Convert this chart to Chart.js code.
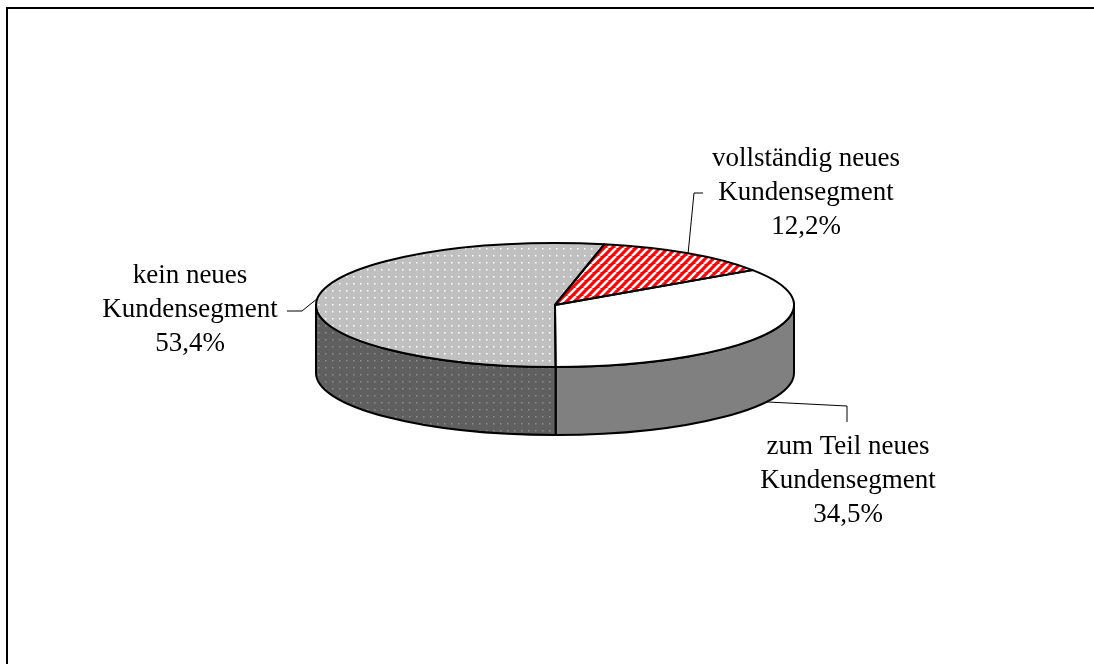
<!DOCTYPE html>
<html>
<head>
<meta charset="utf-8">
<script src="https://cdn.jsdelivr.net/npm/chart.js@4.4.0/dist/chart.umd.min.js"></script>
<style>
  body { margin: 0; background: #fff; overflow: hidden; }
  #frame { position: absolute; left: 6px; top: 7px; width: 1200px; height: 800px; border-left: 2px solid #000; border-top: 2px solid #000; }
  #pie { position: absolute; left: 0; top: 0; }
</style>
</head>
<body>
<div id="frame"></div>
<canvas id="pie" width="1094" height="664"></canvas>
<script>
// segments and their shares in percent
var categories = [
	['vollständig neues', 'Kundensegment'],
	['zum Teil neues', 'Kundensegment'],
	['kein neues', 'Kundensegment']
];
var shares = [12.2, 34.5, 53.4];

var tilt = 62 / 239; // vertical squash of the top face
var depth = 68; // height of the cylinder wall in px

var canvas = document.getElementById('pie');
var ctx = canvas.getContext('2d');

// small tiles used as fill patterns
function dotPattern(base, dot) {
	var n = 7;
	var c = document.createElement('canvas');
	c.width = n;
	c.height = n;
	var g = c.getContext('2d');
	g.fillStyle = base;
	g.fillRect(0, 0, n, n);
	g.fillStyle = dot;
	g.fillRect(3, 3, 1.5, 1.5);
	return ctx.createPattern(c, 'repeat');
}

function stripePattern() {
	var n = 8;
	var c = document.createElement('canvas');
	c.width = n;
	c.height = n;
	var g = c.getContext('2d');
	g.fillStyle = '#ff0000';
	g.fillRect(0, 0, n, n);
	g.strokeStyle = '#ffffff';
	g.lineWidth = 2.6;
	for (var i = -1; i <= 1; i++) {
		g.beginPath();
		g.moveTo(i * n, n);
		g.lineTo(i * n + n, 0);
		g.stroke();
	}
	return ctx.createPattern(c, 'repeat');
}

var topFills = [stripePattern(), '#ffffff', dotPattern('#c0c0c0', '#ffffff')];
var sideFills = ['#b00000', '#808080', dotPattern('#5f5f5f', '#8e8e8e')];

// label boxes relative to the pie centre: text centre of first line, elbow and end of the leader
var labelSpots = [
	{ tx: 251, ty: -146, elbow: [139, -112], end: [148, -112] },
	{ tx: 293, ty: 142, elbow: [292, 101], end: [292, 117] },
	{ tx: -365, ty: -29, elbow: [-253, 6], end: [-268, 6] }
];

// parts of [a, b] that lie on the front half (0..PI) of the ellipse
function frontSpans(a, b) {
	var spans = [];
	for (var k = -1; k <= 2; k++) {
		var lo = Math.max(a, 2 * Math.PI * k);
		var hi = Math.min(b, 2 * Math.PI * k + Math.PI);
		if (hi > lo) spans.push([lo, hi]);
	}
	return spans;
}

function formatShare(v) {
	return v.toFixed(1).replace('.', ',') + '%';
}

var pie3d = {
	id: 'pie3d',
	beforeDatasetsDraw: function(chart) {
		var c = chart.ctx;
		var arcs = chart.getDatasetMeta(0).data;
		var cx = arcs[0].x, cy = arcs[0].y;
		var rx = arcs[0].outerRadius, ry = rx * tilt;

		// cylinder walls
		c.save();
		c.lineWidth = 2;
		c.strokeStyle = '#000';
		c.lineJoin = 'round';
		arcs.forEach(function(arc, i) {
			frontSpans(arc.startAngle, arc.endAngle).forEach(function(s) {
				c.beginPath();
				c.ellipse(cx, cy, rx, ry, 0, s[0], s[1]);
				c.ellipse(cx, cy + depth, rx, ry, 0, s[1], s[0], true);
				c.closePath();
				c.fillStyle = sideFills[i];
				c.fill();
				c.stroke();
			});
		});
		c.restore();

		// keep the patterns unsquashed while the top face is flattened
		var inv = new DOMMatrix().translate(cx, cy).scale(1, 1 / tilt).translate(-cx, -cy);
		topFills.forEach(function(f) {
			if (f instanceof CanvasPattern) f.setTransform(inv);
		});

		c.save();
		c.translate(cx, cy);
		c.scale(1, tilt);
		c.translate(-cx, -cy);
	},
	afterDatasetsDraw: function(chart) {
		var c = chart.ctx;
		c.restore();

		var arcs = chart.getDatasetMeta(0).data;
		var cx = arcs[0].x, cy = arcs[0].y;
		var rx = arcs[0].outerRadius, ry = rx * tilt;

		// slice outlines on the top face
		c.save();
		c.lineWidth = 2;
		c.strokeStyle = '#000';
		c.lineJoin = 'round';
		arcs.forEach(function(arc) {
			c.beginPath();
			c.moveTo(cx, cy);
			c.ellipse(cx, cy, rx, ry, 0, arc.startAngle, arc.endAngle);
			c.closePath();
			c.stroke();
		});

		// leader lines and labels
		c.lineWidth = 1;
		c.font = '27px "Liberation Serif", "Times New Roman", serif';
		c.fillStyle = '#000';
		c.textAlign = 'center';
		c.textBaseline = 'middle';
		arcs.forEach(function(arc, i) {
			var mid = (arc.startAngle + arc.endAngle) / 2;
			var ax = cx + rx * Math.cos(mid);
			var ay = cy + ry * Math.sin(mid) + (Math.sin(mid) > 0 ? depth : 0);
			var spot = labelSpots[i];
			c.beginPath();
			c.moveTo(ax, ay);
			c.lineTo(cx + spot.elbow[0], cy + spot.elbow[1]);
			c.lineTo(cx + spot.end[0], cy + spot.end[1]);
			c.stroke();

			var lines = chart.data.labels[i].concat([formatShare(shares[i])]);
			for (var j = 0; j < lines.length; j++) {
				c.fillText(lines[j], cx + spot.tx, cy + spot.ty + j * 34);
			}
		});
		c.restore();
	}
};

var chart = new Chart(ctx, {
	type: 'pie',
	data: {
		labels: categories,
		datasets: [{
			data: shares,
			backgroundColor: topFills,
			borderWidth: 0,
			radius: 239
		}]
	},
	options: {
		responsive: false,
		devicePixelRatio: 1,
		animation: false,
		events: [],
		rotation: 11.9,
		layout: { padding: { left: 16, right: 0, top: 0, bottom: 54 } },
		plugins: {
			legend: { display: false },
			tooltip: { enabled: false }
		}
	},
	plugins: [pie3d]
});
</script>
</body>
</html>
